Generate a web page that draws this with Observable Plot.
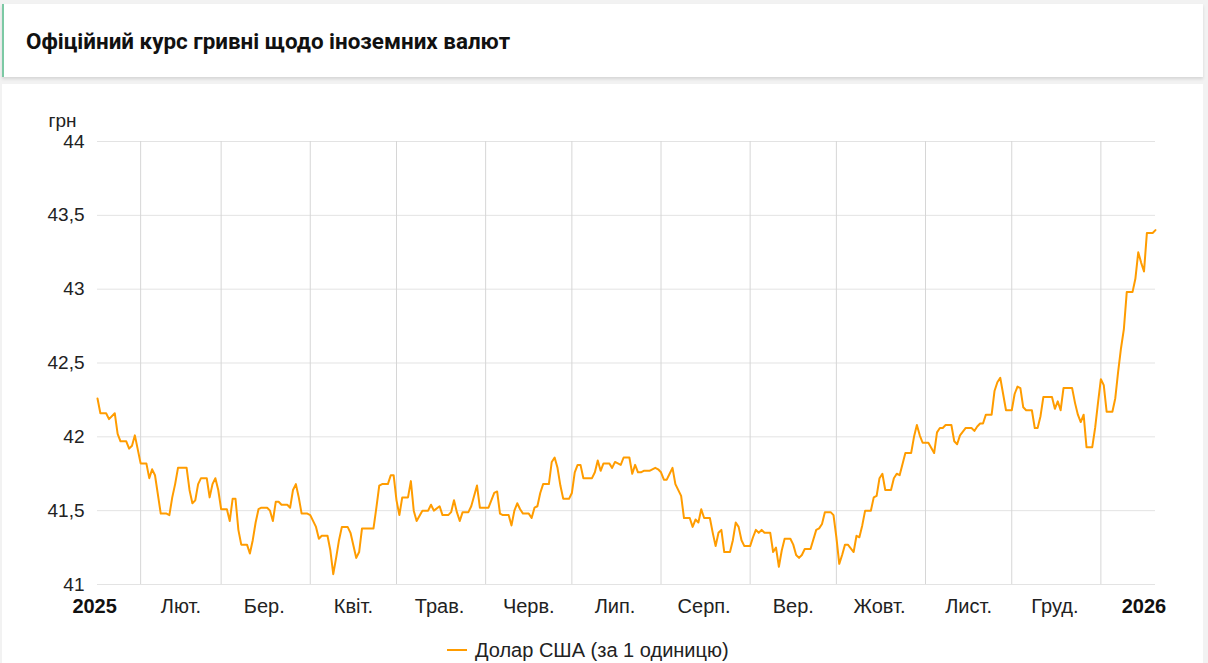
<!DOCTYPE html>
<html>
<head>
<meta charset="utf-8">
<script src="https://cdn.jsdelivr.net/npm/d3@7"></script>
<script src="https://cdn.jsdelivr.net/npm/@observablehq/plot@0.6"></script>
<style>
  html, body { margin: 0; padding: 0; }
  body { width: 1208px; height: 663px; background: #f2f2f2; font-family: "Liberation Sans", Arial, sans-serif; position: relative; overflow: hidden; }
  #titlecard { position: absolute; left: 2px; top: 4px; width: 1201px; height: 73px; background: #fff; border-left: 2px solid #7cc9a4; box-shadow: 0 2px 3px rgba(0,0,0,0.12); box-sizing: border-box; }
  #titlecard h1 { margin: 0; position: absolute; left: 22px; top: 23px; font-family: Roboto, sans-serif; font-size: 22.4px; font-weight: 700; color: #111; letter-spacing: 0; line-height: 28px; }
  #chartcard { position: absolute; left: 2px; top: 84px; width: 1201px; height: 590px; background: #fff; }
  #chart { position: absolute; left: 0; top: 90px; width: 1208px; }
  #chart svg { max-width: none !important; }
  #legend { position: absolute; left: 447px; top: 638px; font-size: 20px; color: #222; display: flex; align-items: center; line-height: 24px; }
  #legend .sym { width: 20px; height: 2px; background: #ff9c00; margin-right: 8px; }
</style>
</head>
<body>
<div id="titlecard"><h1>Офіційний курс гривні щодо іноземних валют</h1></div>
<div id="chartcard"></div>
<div id="chart"></div>
<div id="legend"><span class="sym"></span><span>Долар США (за 1 одиницю)</span></div>
<script>
const dates = [
"2025-01-17","2025-01-18","2025-01-20","2025-01-21","2025-01-23","2025-01-24","2025-01-25","2025-01-27","2025-01-28","2025-01-29","2025-01-30",
"2025-02-01","2025-02-03","2025-02-04","2025-02-05","2025-02-06","2025-02-08","2025-02-10","2025-02-11","2025-02-12","2025-02-13","2025-02-14","2025-02-17","2025-02-18","2025-02-19","2025-02-20","2025-02-21","2025-02-22","2025-02-24","2025-02-25","2025-02-26","2025-02-27","2025-02-28",
"2025-03-01","2025-03-03","2025-03-04","2025-03-05","2025-03-06","2025-03-07","2025-03-08","2025-03-10","2025-03-11","2025-03-12","2025-03-13","2025-03-14","2025-03-15","2025-03-17","2025-03-18","2025-03-19","2025-03-20","2025-03-21","2025-03-22","2025-03-24","2025-03-25","2025-03-26","2025-03-27","2025-03-28","2025-03-29","2025-03-31",
"2025-04-01","2025-04-03","2025-04-04","2025-04-05","2025-04-07","2025-04-08","2025-04-09","2025-04-10","2025-04-11","2025-04-12","2025-04-14","2025-04-15","2025-04-17","2025-04-18","2025-04-19","2025-04-21","2025-04-23","2025-04-24","2025-04-25","2025-04-26","2025-04-28","2025-04-29","2025-04-30",
"2025-05-01","2025-05-02","2025-05-03","2025-05-05","2025-05-06","2025-05-07","2025-05-08","2025-05-10","2025-05-12","2025-05-13","2025-05-14","2025-05-16","2025-05-17","2025-05-19","2025-05-20","2025-05-21","2025-05-22","2025-05-23","2025-05-24","2025-05-26","2025-05-27","2025-05-29","2025-05-30",
"2025-06-02","2025-06-04","2025-06-05","2025-06-06","2025-06-07","2025-06-09","2025-06-10","2025-06-11","2025-06-12","2025-06-13","2025-06-14","2025-06-16","2025-06-17","2025-06-18","2025-06-19","2025-06-20","2025-06-21","2025-06-23","2025-06-24","2025-06-25","2025-06-26","2025-06-27","2025-06-28","2025-06-30",
"2025-07-01","2025-07-02","2025-07-03","2025-07-04","2025-07-05","2025-07-08","2025-07-09","2025-07-10","2025-07-11","2025-07-12","2025-07-14","2025-07-15","2025-07-16","2025-07-17","2025-07-18","2025-07-19","2025-07-21","2025-07-22","2025-07-23","2025-07-24","2025-07-25","2025-07-26","2025-07-28","2025-07-30","2025-07-31",
"2025-08-01","2025-08-02","2025-08-03","2025-08-04","2025-08-05","2025-08-06","2025-08-08","2025-08-09","2025-08-11","2025-08-12","2025-08-13","2025-08-14","2025-08-15","2025-08-16","2025-08-18","2025-08-19","2025-08-20","2025-08-21","2025-08-22","2025-08-23","2025-08-25","2025-08-26","2025-08-27","2025-08-28","2025-08-29","2025-08-30",
"2025-09-01","2025-09-02","2025-09-03","2025-09-04","2025-09-05","2025-09-06","2025-09-08","2025-09-09","2025-09-10","2025-09-11","2025-09-12","2025-09-13","2025-09-15","2025-09-16","2025-09-17","2025-09-18","2025-09-19","2025-09-20","2025-09-22","2025-09-24","2025-09-25","2025-09-26","2025-09-27","2025-09-29","2025-09-30",
"2025-10-01","2025-10-02","2025-10-03","2025-10-04","2025-10-05","2025-10-07","2025-10-08","2025-10-09","2025-10-10","2025-10-11","2025-10-13","2025-10-14","2025-10-15","2025-10-16","2025-10-17","2025-10-18","2025-10-20","2025-10-21","2025-10-22","2025-10-23","2025-10-25","2025-10-27","2025-10-28","2025-10-29","2025-10-30","2025-10-31",
"2025-11-02","2025-11-04","2025-11-05","2025-11-06","2025-11-07","2025-11-08","2025-11-10","2025-11-11","2025-11-12","2025-11-13","2025-11-15","2025-11-17","2025-11-18","2025-11-19","2025-11-20","2025-11-21","2025-11-22","2025-11-24","2025-11-25","2025-11-26","2025-11-27","2025-11-28","2025-11-29",
"2025-12-01","2025-12-02","2025-12-03","2025-12-04","2025-12-05","2025-12-06","2025-12-08","2025-12-09","2025-12-10","2025-12-11","2025-12-12","2025-12-15","2025-12-16","2025-12-17","2025-12-18","2025-12-19","2025-12-22","2025-12-23","2025-12-24","2025-12-25","2025-12-26","2025-12-27","2025-12-29","2025-12-30","2025-12-31",
"2026-01-01","2026-01-02","2026-01-03","2026-01-05","2026-01-06","2026-01-07","2026-01-08","2026-01-09","2026-01-10","2026-01-12","2026-01-13","2026-01-14","2026-01-15","2026-01-16","2026-01-17","2026-01-19","2026-01-20"
];
const usdRates = [
42.26,42.16,42.16,42.12,42.16,42.02,41.97,41.97,41.92,41.94,42.01,
41.82,41.82,41.72,41.78,41.74,41.48,41.48,41.47,41.59,41.68,41.79,41.79,41.64,41.55,41.57,41.68,41.72,41.72,41.59,41.68,41.72,41.64,
41.51,41.51,41.43,41.58,41.58,41.37,41.27,41.27,41.21,41.30,41.42,41.51,41.52,41.52,41.50,41.43,41.56,41.56,41.54,41.54,41.52,41.64,41.68,41.59,41.48,41.48,
41.47,41.39,41.31,41.33,41.33,41.23,41.07,41.18,41.30,41.39,41.39,41.35,41.18,41.22,41.38,41.38,41.38,41.52,41.67,41.68,41.68,41.74,41.74,
41.57,41.47,41.59,41.59,41.70,41.50,41.43,41.50,41.50,41.54,41.50,41.53,41.47,41.47,41.49,41.57,41.49,41.43,41.49,41.49,41.53,41.67,41.52,
41.52,41.62,41.63,41.48,41.47,41.47,41.40,41.50,41.55,41.51,41.48,41.48,41.45,41.52,41.53,41.62,41.68,41.68,41.83,41.86,41.79,41.67,41.58,41.58,
41.62,41.76,41.81,41.81,41.72,41.72,41.76,41.84,41.77,41.82,41.82,41.79,41.83,41.82,41.81,41.86,41.86,41.75,41.81,41.76,41.76,41.77,41.77,41.79,41.78,
41.76,41.71,41.71,41.75,41.79,41.68,41.60,41.45,41.45,41.39,41.44,41.42,41.51,41.45,41.45,41.35,41.26,41.35,41.37,41.22,41.22,41.30,41.42,41.39,41.30,41.26,
41.26,41.32,41.37,41.35,41.37,41.35,41.35,41.22,41.25,41.12,41.23,41.31,41.31,41.27,41.20,41.18,41.20,41.24,41.24,41.37,41.38,41.41,41.49,41.49,41.47,
41.32,41.14,41.20,41.27,41.27,41.22,41.33,41.32,41.40,41.50,41.50,41.59,41.60,41.72,41.75,41.64,41.64,41.72,41.75,41.74,41.89,41.89,42.00,42.08,42.01,41.96,
41.96,41.89,42.03,42.06,42.06,42.08,42.08,41.97,41.95,42.01,42.06,42.06,42.04,42.07,42.09,42.09,42.15,42.15,42.31,42.37,42.40,42.29,42.18,
42.18,42.29,42.34,42.33,42.20,42.18,42.18,42.06,42.06,42.14,42.27,42.27,42.19,42.24,42.18,42.33,42.33,42.23,42.15,42.10,42.15,41.93,41.93,42.06,42.23,
42.39,42.35,42.17,42.17,42.26,42.44,42.60,42.73,42.98,42.98,43.07,43.25,43.18,43.12,43.38,43.38,43.40
];
const yTicks = [41, 41.5, 42, 42.5, 43, 43.5, 44];
const monthStarts = ["2025-02-01","2025-03-01","2025-04-01","2025-05-01","2025-06-01","2025-07-01","2025-08-01","2025-09-01","2025-10-01","2025-11-01","2025-12-01","2026-01-01"];
const monthLabels = ["2025","Лют.","Бер.","Квіт.","Трав.","Черв.","Лип.","Серп.","Вер.","Жовт.","Лист.","Груд.","2026"];
const monthLabelDates = ["2025-01-16","2025-02-15","2025-03-16","2025-04-16","2025-05-16","2025-06-16","2025-07-16","2025-08-16","2025-09-16","2025-10-16","2025-11-16","2025-12-16","2026-01-16"];
const yearLabels = ["2025","2026"];
const xDomain = ["2025-01-17","2026-01-20"];

const data = dates.map((d, i) => ({date: new Date(d), value: usdRates[i]}));
const labels = monthLabels.map((t, i) => ({text: t, date: new Date(monthLabelDates[i])}));
const monthOnly = labels.filter(d => !yearLabels.includes(d.text));
const yearOnly = labels.filter(d => yearLabels.includes(d.text));

const chart = Plot.plot({
  width: 1208,
  height: 530,
  marginLeft: 97,
  marginRight: 53,
  marginTop: 51,
  marginBottom: 36,
  style: {fontFamily: "'Liberation Sans', Arial, sans-serif", fontSize: "19px", color: "#222", background: "transparent", maxWidth: "none"},
  x: {type: "utc", domain: xDomain.map(d => new Date(d)), axis: null},
  y: {domain: [41, 44], axis: null},
  marks: [
    Plot.ruleY(yTicks, {stroke: "#e3e3e3", strokeWidth: 1}),
    Plot.ruleX(monthStarts.map(d => new Date(d)), {y1: 41, y2: 44, stroke: "#d6d6d6", strokeWidth: 1}),
    Plot.axisY(yTicks, {tickSize: 0, tickPadding: 13, tickFormat: d => String(d).replace(".", ","), fontSize: 19, fill: "#222", label: null}),
    Plot.text(["грн"], {frameAnchor: "top-left", dx: -49, dy: -28, textAnchor: "start", fontSize: 19, fill: "#222"}),
    Plot.lineY(data, {x: "date", y: "value", stroke: "#ff9c00", strokeWidth: 2, curve: "linear"}),
    Plot.text(monthOnly, {x: "date", y: () => 41, dy: 22, text: "text", fontSize: 20, fill: "#222"}),
    Plot.text(yearOnly, {x: "date", y: () => 41, dy: 22, text: "text", fontSize: 20, fill: "#111", fontWeight: "bold"})
  ]
});
document.getElementById("chart").appendChild(chart);
</script>
</body>
</html>
